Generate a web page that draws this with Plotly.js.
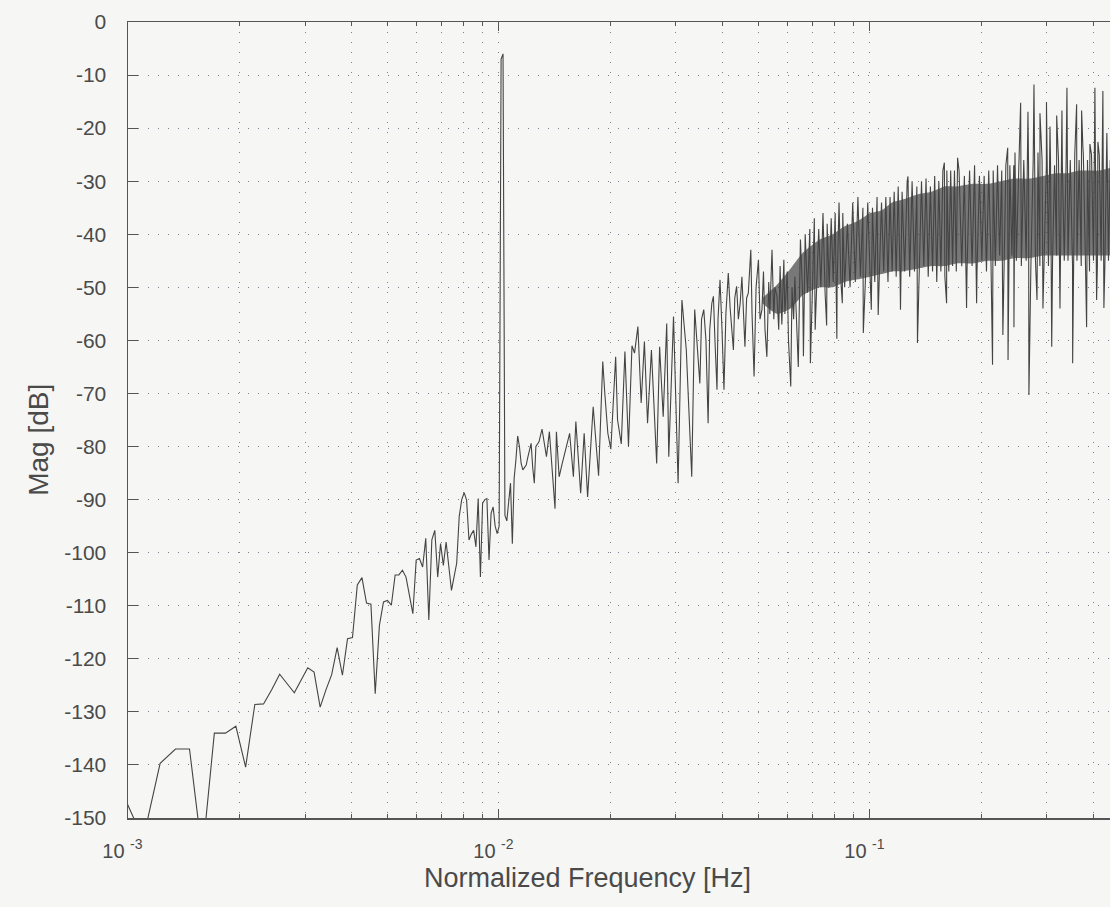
<!DOCTYPE html>
<html>
<head>
<meta charset="utf-8">
<script src="https://cdn.plot.ly/plotly-3.0.1.min.js"></script>
<style>html,body{margin:0;padding:0;background:#f6f6f4;}</style>
</head>
<body>
<div id="chart" style="width:1110px;height:907px;"></div>
<script>
// FFT length: frequency of a bin = bin / FFT_LENGTH (normalized frequency)
const FFT_LENGTH = 8192;

// Low-frequency part, one value per bin
const binsLow = [8,9,10,11,12,13,14,15,16,17,18,19,20,21,22,23,24,25,26,27,28,29,30,31,32,33,34,35,36,37,38,39,40,41,42,43,44,45,46,47,48,49,50,51,52,53,54,55,56,57,58,59,60,61,62,63,64,65,66,67,68,69,70,71,72,73,74,75,76,77,78,79,80,81,82];
const magLow = [-146,-154,-139.7,-137,-137,-157,-134,-134,-132.7,-140.4,-128.6,-128.5,-125.8,-122.9,-124.7,-126.4,-124,-121.7,-122.5,-129.1,-125.8,-123,-117.9,-123.1,-116.2,-116,-106.1,-104.7,-109.5,-109.7,-126.6,-113.7,-109.3,-109,-109.9,-104.2,-104.2,-103.3,-104.6,-108,-111.5,-101.4,-101.1,-102.7,-97.3,-112.7,-97.6,-95.8,-104.6,-98.3,-102.4,-98,-102.7,-107.1,-104.5,-102,-93.2,-90,-88.7,-90.1,-97.6,-96.5,-95.8,-98.9,-89.8,-104.6,-90.7,-90,-89.8,-101.4,-92.6,-91.4,-95,-96.4,-95];

// Tone peak near 0.01
const binsTone = [83,84,85];
const magTone = [-7,-6,-93];

// Middle part
const binsMid = [86,87,88,89,90,91,92,93,94,95,96,97,98,99,100,101,102,103,104,105,107,110,112,114,116,117,119,121,123,127,130,132,136,139,142,147,152,156,158,161,164,169,171,175,179,183,187,190,194,198,202,206,211,218,222,227,232,235,242,249,255,262,271,276,285,288,292,296,300,303,307,310,313,317,319,323,327,331,335,340,344,348,351,354,358,362,366,370,374,377,381,385,391,394,399,404,410,414,419,423,427,432,437,440,446,451,454,460,465,469,474,480,483,490,494,501,505,510,514,519,525];
const magMid = [-94,-90,-86.9,-98.3,-86,-82.5,-78,-80,-83.2,-84.4,-84,-83.5,-82,-80.5,-79.4,-84,-86.9,-80,-79.5,-79.1,-76.7,-81.9,-77.2,-84,-91.7,-77.2,-85.7,-83.5,-81.3,-77.5,-85.7,-75.3,-88.8,-77.5,-89.5,-72.5,-85.5,-64,-70,-77.5,-80.5,-63.1,-75,-79.5,-62.1,-80,-61,-62.4,-57.4,-71.8,-60.2,-75.6,-61.8,-83.2,-61.2,-74.4,-56.8,-81.9,-55.5,-86.9,-52.4,-61.8,-85.7,-54.2,-68.1,-56,-54.2,-60,-75.6,-58,-53,-51.7,-60,-69.3,-56,-48.6,-58,-69.3,-55,-47.3,-54,-58,-61.8,-52,-49.8,-56,-53,-48,-57,-61.2,-52,-51.1,-42.9,-55,-66.8,-50,-44.8,-56,-54.2,-47,-58,-63.1,-49,-55,-42.9,-56,-50,-51.7,-58,-46,-57,-44.8,-55,-47,-60,-68.7,-50,-56,-48,-57,-65];

// Dense high-frequency band (sampled, alternating top / bottom of the band)
const binsBand = [532,540,548,556,564,572,580,588,596,604,612,620,628,636,644,652,660,668,676,684,692,700,
712,724,736,748,760,772,784,796,808,820,832,844,856,868,880,892,904,916,928,940,952,964,976,988,1000,
1016,1032,1048,1064,1080,1096,1112,1128,1144,1160,1176,1192,1208,1224,1240,1256,1272,1288,1304,1320,1336,1352,1368,1384,1400,
1424,1448,1472,1496,1520,1544,1568,1592,1616,1640,1664,1688,1712,1736,1760,1784,1808,1832,1856,1880,1904,1928,1952,1976,2000,
2032,2064,2096,2128,2160,2192,2224,2256,2288,2320,2352,2384,2416,2448,2480,2512,2544,2576,2608,2640,2672,2704,2736,2768,2800,
2840,2880,2920,2960,3000,3040,3080,3120,3160,3200,3240,3280,3320,3360,3400,3440,3480,3520,3560,3600,3640];
const magBand = [-41,-52,-40,-51,-39,-52,-37,-51,-39,-50,-36,-51,-38,-50,-37,-49,-36,-50,-34,-49,-36,-50,
-38,-50,-34,-49,-33,-48,-35,-49,-34,-48,-35,-49,-33,-48,-34,-47,-33,-49,-33,-47,-32,-48,-31,-49,-32,
-47,-30,-48,-30,-47,-31,-48,-30,-46,-29.5,-48,-31,-47,-29,-49,-30,-47,-28,-48,-28,-47,-28,-46,-28,-47,
-28,-46,-29,-47,-28,-46,-27,-47,-29,-45,-29,-47,-28,-45,-28,-46,-27,-44,-28,-46,-27,-45,-27,-44,-27,
-45,-27,-46,-26,-45,-27,-46,-26,-45,-27,-46,-26,-44,-27,-46,-26,-45,-27,-44,-26,-46,-27,-45,-26,-45,
-26,-46,-25,-45,-26,-46,-25,-45,-26,-47,-25,-45,-26,-46,-25,-45,-26,-46,-25,-45,-26];

// Isolated spikes above / below the band
const binsSpike = [542,566,583,626,667,690,786,826,862,990,1037,1100,1300,1318,1411,1492,1588,1753,1869,1926,1930,2002,2015,
2087,2184,2197,2267,2310,2324,2353,2397,2450,2504,2531,2610,2664,2697,2782,2882,2954,3047,3072,3143,3208,3309,3344,3371,3477,3499,3564];
const magSpike = [-63,-64.3,-58,-57.2,-59.7,-53,-58.6,-54.2,-55.2,-54.2,-29.1,-60.5,-26.5,-53,-25.6,-53.9,-53,-64.6,-59,-23.7,-63.7,-57.5,-24.6,
-15.2,-16.9,-70.3,-11.8,-52.4,-24.6,-17.2,-54,-15.1,-19.7,-61.2,-17.6,-54,-16.7,-12.4,-64.3,-15.5,-16.7,-23.7,-57.5,-23,-12.4,-52.4,-22.6,-13,-53.9,-20.9];

// Dense core of the noise band (where the trace fills solid)
const coreBins = [420,460,500,540,600,650,700,760,820,880,940,1000,1100,1200,1300,1400,1550,1700,1850,2000,2200,2400,2600,2800,3000,3200,3400,3640];
const coreTop = [-52,-49.5,-46.5,-43.5,-41,-40,-38.5,-37.5,-36,-35.5,-34,-33.5,-32.5,-32,-31,-31,-30.5,-30.5,-30,-29.5,-29.5,-29,-28.5,-28.5,-28,-28,-28,-27.5];
const coreBottom = [-53,-55,-54,-51.5,-50,-50,-49,-48.5,-48,-47.5,-47,-47,-46.5,-46,-46,-45.5,-45.5,-45,-45,-44.5,-44.5,-44,-44,-44,-44,-44,-44,-44];

// Axis ticks
const xTickVals = [0.001, 0.01, 0.1];
const xTickText = ['10&nbsp;<sup>-3</sup>&nbsp;&nbsp;', '10&nbsp;<sup>-2</sup>&nbsp;&nbsp;', '10&nbsp;<sup>-1</sup>&nbsp;&nbsp;'];
const xMinorVals = [0.002,0.003,0.004,0.005,0.006,0.007,0.008,0.009,0.02,0.03,0.04,0.05,0.06,0.07,0.08,0.09,0.2,0.3,0.4];
const yTickVals = [0,-10,-20,-30,-40,-50,-60,-70,-80,-90,-100,-110,-120,-130,-140,-150];
const yTickText = ['0','-10','-20','-30','-40','-50','-60','-70','-80','-90','-100','-110','-120','-130','-140','-150'];

// Merge all parts in frequency order
const allBins = [].concat(binsLow, binsTone, binsMid, binsBand, binsSpike);
const allMag = [].concat(magLow, magTone, magMid, magBand, magSpike);
const order = allBins.map((b, i) => i).sort((a, b) => allBins[a] - allBins[b]);
const freq = order.map(i => allBins[i] / FFT_LENGTH);
const mag = order.map(i => allMag[i]);
const coreFreq = coreBins.map(b => b / FFT_LENGTH);

const FONT = 'Liberation Sans, Arial, Helvetica, sans-serif';
const TXT = '#4a4a4a';
const AX = '#555555';
const GRID = '#857b8e';
const DASH = '1px,9px';

const coreLow = {
  x: coreFreq, y: coreBottom, type: 'scatter', mode: 'lines',
  line: {width: 0, color: 'rgba(0,0,0,0)', shape: 'spline', smoothing: 0.6}, hoverinfo: 'skip'
};
const coreHigh = {
  x: coreFreq, y: coreTop, type: 'scatter', mode: 'lines',
  line: {width: 0, color: 'rgba(0,0,0,0)', shape: 'spline', smoothing: 0.6}, fill: 'tonexty',
  fillcolor: 'rgba(60,60,60,0.68)', hoverinfo: 'skip'
};
const trace = {
  x: freq, y: mag, type: 'scatter', mode: 'lines',
  line: {color: '#444444', width: 1.1},
  hoverinfo: 'skip'
};

const layout = {
  width: 1110, height: 907,
  margin: {l: 128, r: 0, t: 22, b: 89, pad: 0},
  paper_bgcolor: '#f6f6f4', plot_bgcolor: '#f6f6f4',
  showlegend: false,
  font: {family: FONT, color: TXT},
  xaxis: {
    type: 'log', range: [-3, -0.353],
    tickmode: 'array', tickvals: xTickVals, ticktext: xTickText,
    ticks: 'inside', ticklen: 9, tickwidth: 1, tickcolor: AX,
    showline: true, linecolor: AX, linewidth: 1.5, mirror: 'allticks',
    showgrid: true, gridcolor: GRID, gridwidth: 1, griddash: DASH,
    zeroline: false,
    tickfont: {family: FONT, size: 20, color: TXT},
    ticklabelstandoff: 14,
    minor: {
      tickmode: 'array', tickvals: xMinorVals,
      ticks: 'inside', ticklen: 4, tickwidth: 1, tickcolor: AX,
      showgrid: true, gridcolor: GRID, gridwidth: 1, griddash: DASH
    }
  },
  yaxis: {
    range: [-150, 0], tickmode: 'array', tickvals: yTickVals, ticktext: yTickText,
    ticks: 'inside', ticklen: 10, tickwidth: 1, tickcolor: AX,
    showline: true, linecolor: AX, linewidth: 1.5, mirror: false,
    showgrid: true, gridcolor: GRID, gridwidth: 1, griddash: DASH,
    zeroline: false,
    tickfont: {family: FONT, size: 21, color: TXT},
    ticklabelstandoff: 16
  },
  annotations: [
    {text: 'Normalized Frequency [Hz]', xref: 'paper', yref: 'paper',
     x: 0.468, y: -0.0755, xanchor: 'center', yanchor: 'middle', showarrow: false,
     font: {family: FONT, size: 27, color: TXT}},
    {text: 'Mag [dB]', xref: 'paper', yref: 'paper', textangle: -90,
     x: -0.0908, y: 0.4749, xanchor: 'center', yanchor: 'middle', showarrow: false,
     font: {family: FONT, size: 28, color: TXT}}
  ]
};

Plotly.newPlot('chart', [coreLow, coreHigh, trace], layout, {staticPlot: true, displayModeBar: false});
</script>
</body>
</html>
